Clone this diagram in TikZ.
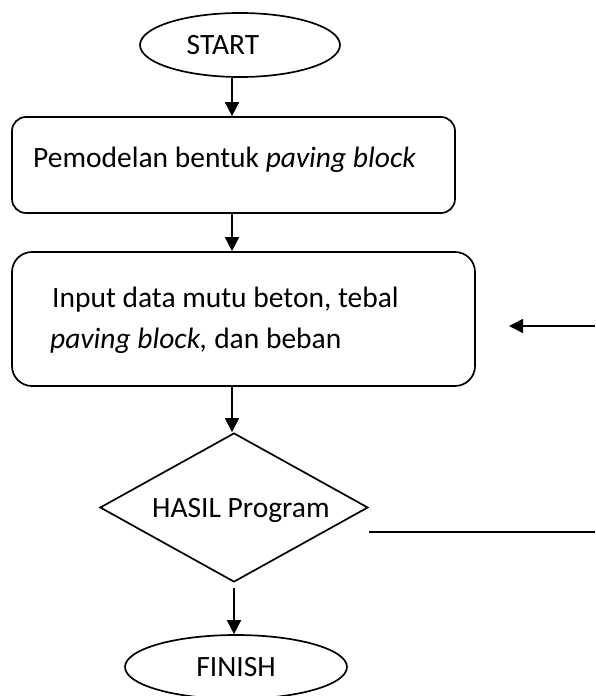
\documentclass[tikz,border=0pt]{standalone}
\usepackage{fontspec}
\setmainfont{Carlito}
\usetikzlibrary{shapes.geometric,arrows.meta}
\begin{document}
\begin{tikzpicture}[x=1pt,y=-1pt,
  every node/.style={font=\fontsize{29.5}{41}\selectfont},
  line/.style={line width=1.7pt},
  arr/.style={line width=1.7pt,-{Triangle[length=14pt,width=14pt]}},
  term/.style={draw,line width=1.7pt,ellipse,inner sep=0pt},
  procbox/.style={draw,line width=1.7pt,rectangle,inner sep=0pt},
  decide/.style={draw,line width=1.7pt,diamond,inner sep=0pt},
  txt/.style={anchor=base west,inner sep=0pt}]
\useasboundingbox (0,0) rectangle (595,696);
% terminal START
\node[term,minimum width=200pt,minimum height=64pt,label={[xshift=-17pt]center:START}] (start) at (240,45) {};
% process 1
\node[procbox,rounded corners=14pt,minimum width=443pt,minimum height=96pt] (box1) at (233.5,165) {};
\node[txt] (t1) at (33,167) {Pemodelan bentuk \textit{paving block}};
% process 2
\node[procbox,rounded corners=20pt,minimum width=463pt,minimum height=134pt] (box2) at (243.5,319) {};
\node[txt] (t2a) at (52,307) {Input data mutu beton, tebal};
\node[txt] (t2b) at (50,348) {\textit{paving block,} dan beban};
% decision
\node[decide,minimum width=268pt,minimum height=149pt] (dia) at (234,507.5) {};
\node[txt] (t3) at (152,517) {HASIL Program};
% terminal FINISH
\node[term,minimum width=222pt,minimum height=64pt] (finish) at (236,667) {FINISH};
% side connectors
\coordinate (r1) at (595,326);
\coordinate (r1e) at (509,326);
\coordinate (r2) at (369,532);
\coordinate (r2e) at (595,532);
% arrows
\draw[arr] (start.south -| 232,0) -- (232,0 |- box1.north);
\draw[arr] (box1.south -| 232,0) -- (232,0 |- box2.north);
\draw[arr] (box2.south -| 232,0) -- (232,0 |- dia.north);
\draw[arr,shorten <=5pt] (dia.south) -- (dia.south |- finish.north);
\draw[arr] (r1) -- (r1e);
\draw[line] (r2) -- (r2e);
\end{tikzpicture}
\end{document}
